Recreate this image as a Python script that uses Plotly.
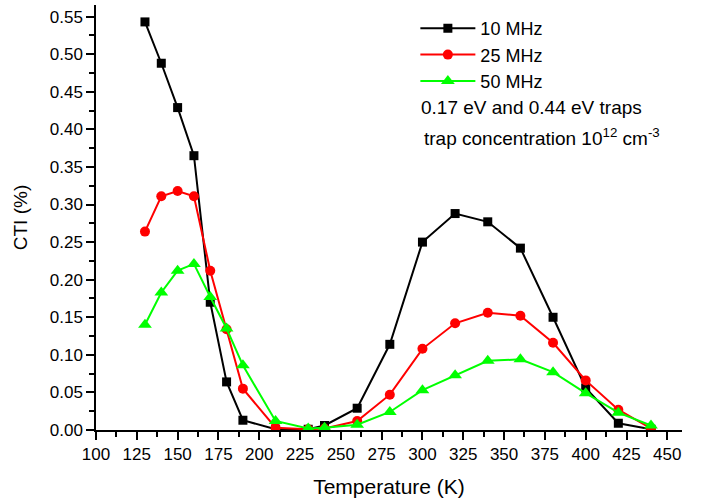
import plotly.graph_objects as go

temps = [130, 140, 150, 160, 170, 180, 190, 210, 230, 240, 260, 280, 300, 320, 340, 360, 380, 400, 420, 440]
cti_10 = [0.543, 0.488, 0.429, 0.365, 0.170, 0.064, 0.013, 0.001, 0.001, 0.006, 0.029, 0.114, 0.250, 0.288, 0.277, 0.242, 0.150, 0.056, 0.009, 0.001]
cti_25 = [0.264, 0.311, 0.318, 0.311, 0.212, 0.134, 0.055, 0.003, 0.001, 0.002, 0.012, 0.047, 0.108, 0.142, 0.156, 0.152, 0.116, 0.066, 0.027, 0.002]
cti_50 = [0.140, 0.183, 0.212, 0.221, 0.177, 0.135, 0.086, 0.012, 0.002, 0.003, 0.007, 0.024, 0.053, 0.073, 0.092, 0.094, 0.077, 0.049, 0.023, 0.006]

series = [
    ("10 MHz", cti_10, "#000000", "square", 9),
    ("25 MHz", cti_25, "#FF0000", "circle", 10),
    ("50 MHz", cti_50, "#00FF00", "triangle-up", 12),
]

FONT = "Arial, Liberation Sans, sans-serif"

fig = go.Figure()
for name, vals, color, sym, sz in series:
    fig.add_trace(go.Scatter(
        x=temps, y=vals, name=name, mode="lines+markers",
        line=dict(color=color, width=2),
        marker=dict(symbol=sym, size=sz, color=color, line=dict(width=0)),
    ))

fig.update_layout(
    width=701, height=500,
    margin=dict(l=96, r=19, t=5, b=70),
    paper_bgcolor="white", plot_bgcolor="white",
    font=dict(family=FONT, color="black", size=17),
    showlegend=True,
    legend=dict(x=0.545, y=1.0 - 5 / 425, xanchor="left", yanchor="top",
                font=dict(size=18, family=FONT), bgcolor="rgba(0,0,0,0)",
                tracegroupgap=0, itemwidth=55),
    xaxis=dict(
        range=[100, 459], tick0=100, dtick=25, ticks="outside", ticklen=8,
        tickwidth=1.5, tickcolor="black", showline=True, linecolor="black",
        linewidth=1.5, showgrid=False, zeroline=False,
        tickfont=dict(size=17, family=FONT),
        minor=dict(dtick=12.5, ticks="outside", ticklen=5, tickcolor="black", tickwidth=1.5),
        title=dict(text="Temperature (K)", font=dict(size=21, family=FONT), standoff=16),
    ),
    yaxis=dict(
        range=[0, 0.5655], tick0=0, dtick=0.05, tickformat=".2f", ticks="outside",
        ticklen=8, tickwidth=1.5, tickcolor="black", showline=True, linecolor="black",
        linewidth=1.5, showgrid=False, zeroline=False,
        tickfont=dict(size=17, family=FONT),
        minor=dict(dtick=0.025, ticks="outside", ticklen=5, tickcolor="black", tickwidth=1.5),
        title=dict(text="CTI (%)", font=dict(size=19, family=FONT), standoff=17),
    ),
    annotations=[
        dict(text="0.17 eV and 0.44 eV traps", xref="paper", yref="paper",
             x=(418 - 96) / 585, y=(430 - 108) / 425, xanchor="left", yanchor="middle",
             showarrow=False, font=dict(size=19, family=FONT)),
        dict(text="trap concentration 10<sup>12</sup> cm<sup>-3</sup>", xref="paper", yref="paper",
             x=(421 - 96) / 585, y=(430 - 137) / 425, xanchor="left", yanchor="middle",
             showarrow=False, font=dict(size=19, family=FONT)),
    ],
)

fig.write_html("out.html")
